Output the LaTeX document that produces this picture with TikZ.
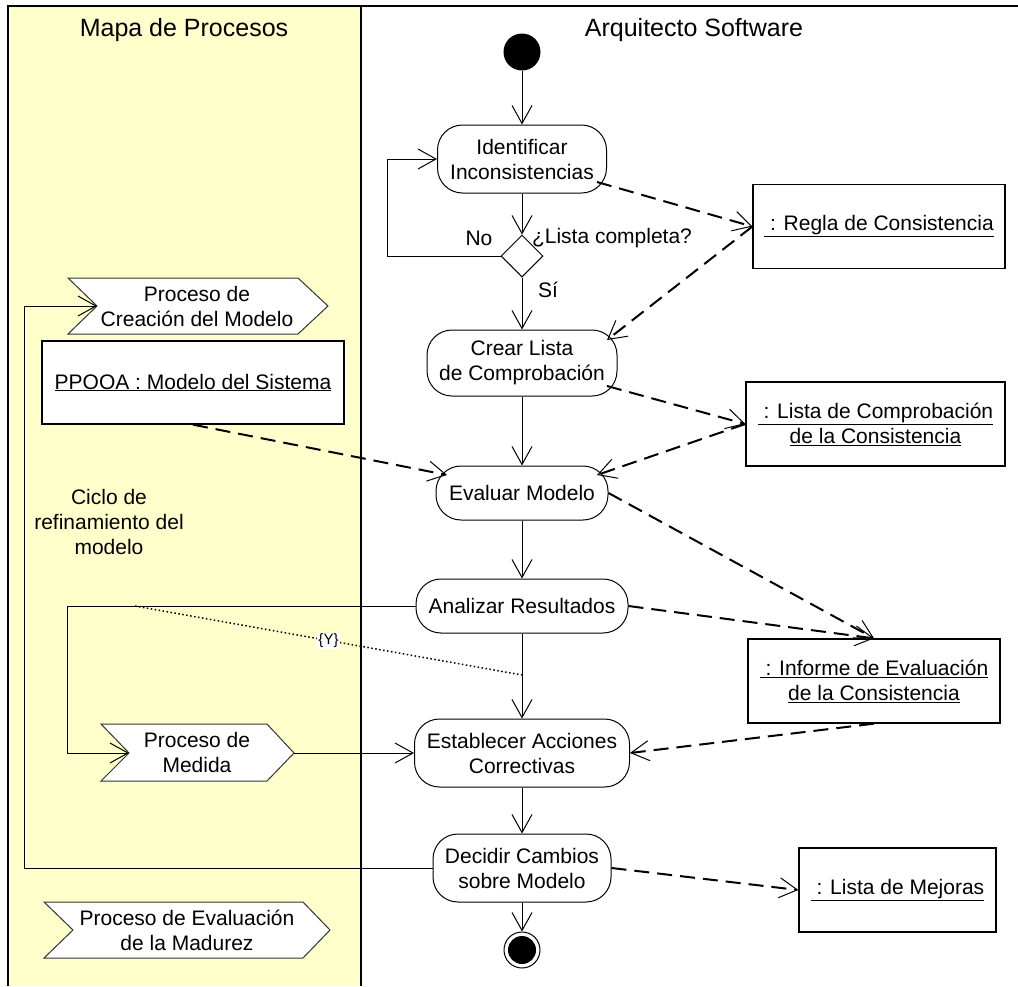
\documentclass[tikz,border=0pt]{standalone}
\usepackage{fontspec}
\setmainfont{Liberation Sans}
\usetikzlibrary{arrows.meta,shapes.geometric}
\begin{document}
\begin{tikzpicture}[x=1pt,y=-1pt,
  every node/.style={font=\fontsize{21}{25}\selectfont, inner sep=0pt},
  act/.style={draw, fill=white, rounded corners=25pt, align=center, line width=1pt},
  obj/.style={draw, fill=white, align=center, line width=1.3pt, minimum height=84pt},
  chev/.style={draw=black!80, fill=white, line width=1pt},
  tip/.style={-{Straight Barb[length=18pt,width=20pt,line width'=1pt]}},
  flow/.style={tip, line width=1pt},
  dep/.style={tip, line width=2pt, dash pattern=on 15pt off 8pt},
  title/.style={font=\fontsize{25}{30}\selectfont}
]
\useasboundingbox (0,0) rectangle (1018,986);
% lanes
\fill[fill={rgb,255:red,255;green,255;blue,204}] (8,6) rectangle (361,986);
\draw[line width=2pt] (8,986) -- (8,6) -- (1018,6);
\draw[line width=1.5pt] (361,6) -- (361,986);
\node[title] (t1) at (184,30) {Mapa de Procesos};
\node[title] (t2) at (694,30) {Arquitecto Software};

% activity flow
\node[circle, fill=black, minimum size=37pt] (start) at (522,52) {};
\node[act, minimum width=169pt, minimum height=68pt] (ident) at (522,159) {Identificar\\Inconsistencias};
\node[diamond, draw, fill=white, line width=1pt, minimum width=42pt, minimum height=42pt] (dec) at (522,256) {};
\node[act, minimum width=190pt, minimum height=66pt] (crear) at (522,363) {Crear Lista\\de Comprobación};
\node[act, minimum width=172pt, minimum height=54pt] (eval) at (522,493) {Evaluar Modelo};
\node[act, minimum width=212pt, minimum height=54pt] (anal) at (522,606) {Analizar Resultados};
\node[act, minimum width=215pt, minimum height=68pt] (estab) at (522,753) {Establecer Acciones\\Correctivas};
\node[act, minimum width=178pt, minimum height=68pt] (decid) at (522,868) {Decidir Cambios\\sobre Modelo};
\node[circle, draw, fill=white, line width=1pt, minimum size=36pt] (end) at (522,950) {};
\fill (end.center) circle[radius=14pt];

\node (no) at (479,238) {No};
\node (lc) at (612,238) {¿Lista completa?};
\node (si) at (548,290) {Sí};

% objects
\node[obj, minimum width=252pt] (regla) at (879,226.5) {\underline{~: Regla de Consistencia}};
\node[obj, minimum width=259pt] (listac) at (875.5,424) {\underline{~: Lista de Comprobación}\\\underline{de la Consistencia}};
\node[obj, minimum width=252pt] (inf) at (874,681) {\underline{~: Informe de Evaluación}\\\underline{de la Consistencia}};
\node[obj, minimum width=197pt] (mej) at (897.5,890) {\underline{~: Lista de Mejoras}};
\node[obj, minimum width=302pt, minimum height=83pt] (ppooa) at (193,382.5) {\underline{PPOOA : Modelo del Sistema}};

% process chevrons
\draw[chev] (68,278) -- (298,278) -- (328,306) -- (298,334) -- (68,334) -- (97,306) -- cycle;
\node[align=center] (creac) at (197,306) {Proceso de\\Creación del Modelo};
\coordinate (creNotch) at (97,306);
\draw[chev] (101,724) -- (267,724) -- (294,753) -- (267,781) -- (101,781) -- (129,753) -- cycle;
\node[align=center] (medida) at (197,752) {Proceso de\\Medida};
\coordinate (medNotch) at (129,753);
\coordinate (medTip) at (294,753);
\draw[chev] (44,902) -- (303,902) -- (330,930) -- (303,958) -- (44,958) -- (73,930) -- cycle;
\node[align=center] (madurez) at (187,930) {Proceso de Evaluación\\de la Madurez};

\node[align=center] (ciclo) at (109,522) {Ciclo de\\refinamiento del\\modelo};

% control flow
\draw[flow] (start) -- (ident);
\draw[flow] (ident) -- (dec.north);
\draw[flow] (dec.south) -- (crear);
\draw[flow] (crear) -- (eval);
\draw[flow] (eval) -- (anal);
\draw[flow] (anal) -- (estab);
\draw[flow] (estab) -- (decid);
\draw[flow] (decid) -- (end);
\draw[flow] (dec.west) -- (387,256) |- (ident.west);
\draw[flow] (anal.west) -- (67,606) |- (medNotch);
\draw[flow] (medTip) -- (estab.west);
\draw[flow] (decid.west) -- (24,868) |- (creNotch);

% dotted constraint
\coordinate (yA) at (135,606);
\coordinate (yB) at (522,675);
\draw[line width=1.5pt, dash pattern=on 1.5pt off 2.5pt] (yA) -- node[pos=0.5, fill=white, inner sep=1pt, font=\fontsize{15}{15}\selectfont] (ylab) {\{Y\}} (yB);

% object flows
\draw[dep] ([xshift=75pt,yshift=-23pt]ident.center) -- (regla.west);
\draw[dep] (regla.west) -- ([xshift=85pt,yshift=23pt]crear.center);
\draw[dep] ([xshift=85pt,yshift=-23pt]crear.center) -- (listac.west);
\draw[dep] (listac.west) -- ([xshift=75pt,yshift=18pt]eval.center);
\draw[dep] (ppooa.south) -- ([xshift=-75pt,yshift=18pt]eval.center);
\draw[dep] (eval.east) -- (inf.north);
\draw[dep] (anal.east) -- (inf.north);
\draw[dep] (inf.south) -- (estab.east);
\draw[dep] (decid.east) -- (mej.west);
\end{tikzpicture}
\end{document}
